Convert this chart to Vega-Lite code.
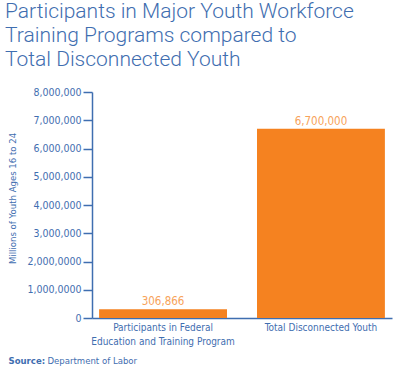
{
  "$schema": "https://vega.github.io/schema/vega-lite/v6.json",
  "width": 300,
  "height": 226,
  "autosize": {"type": "none"},
  "padding": {"left": 92, "top": 92, "right": 8, "bottom": 58},
  "background": "white",
  "config": {"view": {"stroke": null}},
  "title": {
    "text": ["Participants in Major Youth Workforce", "Training Programs compared to", "Total Disconnected Youth"],
    "anchor": "start",
    "frame": "group",
    "orient": "top",
    "font": "Roboto",
    "fontWeight": 300,
    "fontSize": 21,
    "lineHeight": 24,
    "color": "#3f6eb0",
    "dx": -87,
    "offset": 17
  },
  "data": {
    "values": [
      {"category": "Participants in Federal Education and Training Program", "value": 306866},
      {"category": "Total Disconnected Youth", "value": 6700000}
    ]
  },
  "encoding": {
    "y": {
      "field": "value",
      "type": "quantitative",
      "scale": {"domain": [0, 8000000], "nice": false},
      "axis": {
        "title": "Millions of Youth Ages 16 to 24",
        "titleFont": "DejaVu Sans Condensed",
        "titleFontWeight": "normal",
        "titleFontSize": 9.5,
        "titleColor": "#3f6eb0",
        "titleAngle": -90,
        "titleAlign": "center",
        "titleBaseline": "middle",
        "titleX": -80,
        "titleY": 106,
        "values": [0, 1000000, 2000000, 3000000, 4000000, 5000000, 6000000, 7000000, 8000000],
        "labelOverlap": false,
        "labelExpr": "(datum.label == '1,000,000' || datum.value == 1000000) ? '1,000,0000' : (datum.label == '2,000,000' || datum.value == 2000000) ? '2,000,0000' : format(datum.value, ',')",
        "format": ",",
        "labelFont": "DejaVu Sans Condensed",
        "labelFontSize": 10.5,
        "labelColor": "#3f6eb0",
        "labelPadding": 2,
        "grid": false,
        "tickSize": 9,
        "tickColor": "#3f6eb0",
        "tickWidth": 1.5,
        "domainColor": "#3f6eb0",
        "domainWidth": 1.5
      }
    }
  },
  "resolve": {"scale": {"x": "independent"}, "axis": {"x": "independent"}},
  "layer": [
    {
      "encoding": {
        "x": {
          "field": "category",
          "type": "nominal",
          "sort": null,
          "scale": {"paddingInner": 0.19, "paddingOuter": 0.045},
          "axis": {
            "orient": "bottom",
            "title": "Department of Labor",
            "titleFont": "DejaVu Sans Condensed",
            "titleFontWeight": "normal",
            "titleFontSize": 9.5,
            "titleColor": "#3f6eb0",
            "titleAnchor": "start",
            "titleAlign": "left",
            "titleBaseline": "alphabetic",
            "titleX": -45,
            "titleY": 45,
            "labelAngle": 0,
            "labelFont": "DejaVu Sans Condensed",
            "labelFontSize": 10,
            "labelColor": "#3f6eb0",
            "labelPadding": 4,
            "labelLineHeight": 14,
            "labelExpr": "datum.label == 'Participants in Federal Education and Training Program' ? ['Participants in Federal', 'Education and Training Program'] : datum.label",
            "ticks": false,
            "domainColor": "#3f6eb0",
            "domainWidth": 1.5
          }
        }
      },
      "layer": [
        {"mark": {"type": "bar", "color": "#f58220"}},
        {
          "mark": {"type": "text", "baseline": "alphabetic", "dy": -4, "font": "DejaVu Sans Condensed", "fontSize": 11.5, "color": "#f7a35a"},
          "encoding": {"text": {"field": "value", "type": "quantitative", "format": ","}}
        }
      ]
    },
    {
      "mark": {"type": "bar", "opacity": 0},
      "encoding": {
        "x": {
          "field": "category",
          "type": "nominal",
          "sort": null,
          "scale": {"paddingInner": 0.19, "paddingOuter": 0.045},
          "axis": {
            "orient": "bottom",
            "title": "Source:",
            "titleFont": "DejaVu Sans Condensed",
            "titleFontWeight": "bold",
            "titleFontSize": 9.5,
            "titleColor": "#3f6eb0",
            "titleAnchor": "start",
            "titleAlign": "left",
            "titleBaseline": "alphabetic",
            "titleX": -84,
            "titleY": 45,
            "labels": false,
            "ticks": false,
            "domain": false
          }
        }
      }
    }
  ]
}
